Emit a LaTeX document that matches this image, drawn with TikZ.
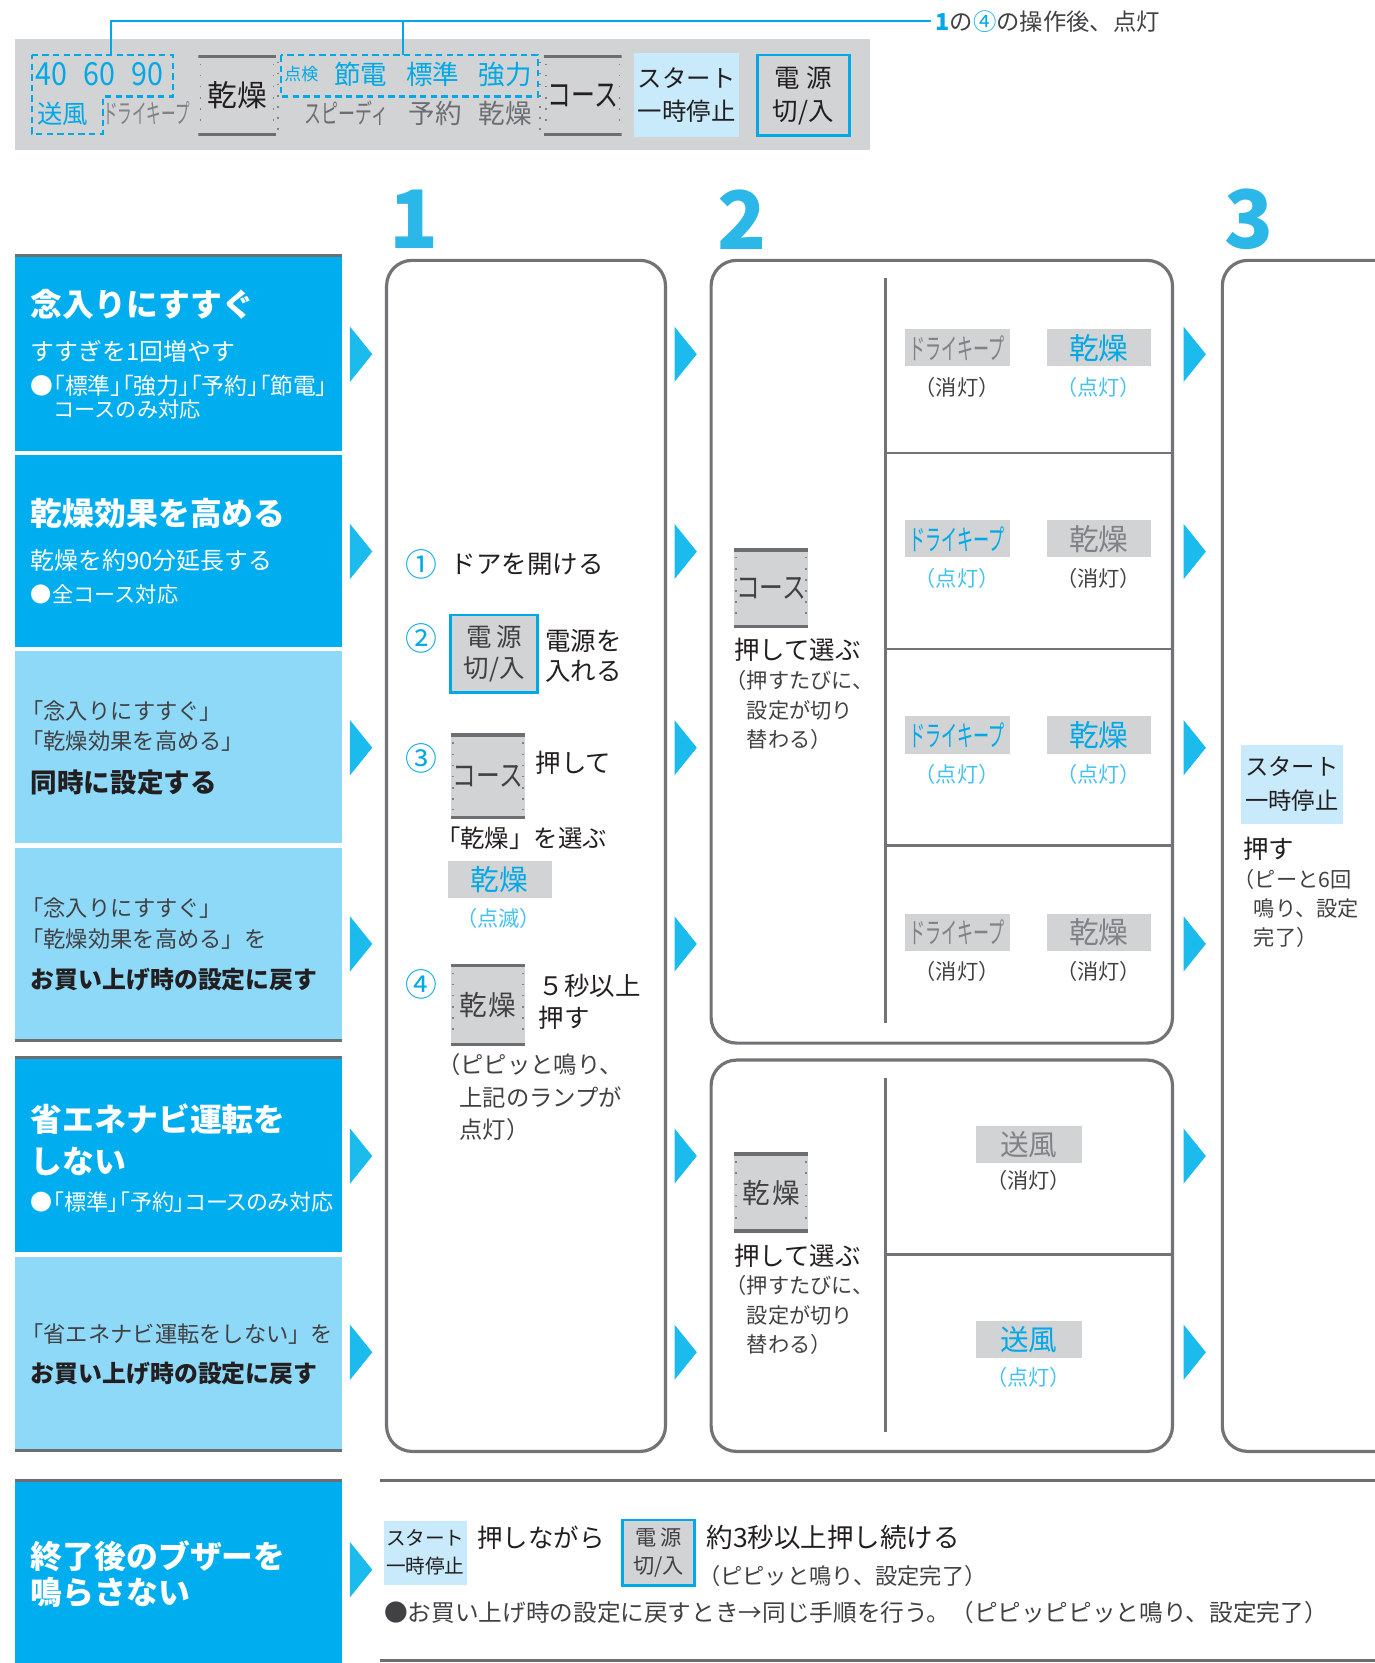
\documentclass[tikz,border=0pt]{standalone}
\usepackage{fontspec}
\setmainfont{Noto Sans CJK JP}
\newfontfamily\jpp[RawFeature=+palt]{Noto Sans CJK JP}
\usepackage{graphicx}
\usetikzlibrary{positioning}

\definecolor{cyandark}{HTML}{00AEEF}
\definecolor{cyanlight}{HTML}{8ED8F8}
\definecolor{arrowblue}{HTML}{1CBBEE}
\definecolor{headblue}{HTML}{2CB7E9}
\definecolor{litblue}{HTML}{00A9E6}
\definecolor{litsoft}{HTML}{45C1F0}
\definecolor{btngray}{HTML}{D1D3D4}
\definecolor{keyline}{HTML}{6D6E71}
\definecolor{boxgray}{HTML}{727376}
\definecolor{offgray}{HTML}{808285}
\definecolor{ink}{HTML}{231F20}
\definecolor{inksoft}{HTML}{414042}
\definecolor{startblue}{HTML}{C8EAFA}

\newcommand{\fz}[1]{\fontsize{#1}{#1}\selectfont}
\newcommand{\lbon}{（点灯）}
\newcommand{\lboff}{（消灯）}

\tikzset{
  txt/.style={anchor=west, inner sep=0pt, text=ink},
  ctr/.style={inner sep=0pt, text=ink},
  wt/.style={txt, text=white},
  leftdark/.style={anchor=north west, fill=cyandark, minimum width=308pt, inner sep=0pt, outer sep=0pt},
  leftlight/.style={leftdark, fill=cyanlight},
  topline/.style={keyline, line width=3pt},
  stepframe/.style={draw=boxgray, line width=3pt, rounded corners=24pt, anchor=north west, inner sep=0pt},
  divider/.style={boxgray, line width=2.5pt},
  dashblue/.style={litblue, line width=2pt, dash pattern=on 6pt off 4pt},
  dotside/.style={offgray, line width=1.5pt, dash pattern=on 1.5pt off 9pt},
  keybtn/.style={fill=btngray, inner sep=0pt, text=inksoft,
    path picture={
      \draw[keyline, line width=6pt] (path picture bounding box.north west) -- (path picture bounding box.north east);
      \draw[keyline, line width=6pt] (path picture bounding box.south west) -- (path picture bounding box.south east);
      \draw[dotside] ([xshift=2pt,yshift=-8pt]path picture bounding box.north west) -- ([xshift=2pt,yshift=8pt]path picture bounding box.south west);
      \draw[dotside] ([xshift=-2pt,yshift=-8pt]path picture bounding box.north east) -- ([xshift=-2pt,yshift=8pt]path picture bounding box.south east);
    }},
  pwrbtn/.style={fill=btngray, draw=litblue, line width=2.5pt, inner sep=0pt, text=inksoft, align=center},
  startbtn/.style={fill=startblue, inner sep=0pt, text=ink, align=center},
  lamp/.style={fill=btngray, minimum width=99pt, minimum height=35pt, inner sep=0pt},
  lampon/.style={lamp, text=litblue},
  lampoff/.style={lamp, text=offgray},
  stateon/.style={ctr, text=litsoft, font=\fz{20}},
  stateoff/.style={ctr, text=inksoft, font=\fz{20}},
  headnum/.style={text=headblue, font={\fz{76}\bfseries}, inner sep=0pt},
  circnum/.style={ctr, text=litblue, font=\fz{30}},
  arrowtip/.style={fill=arrowblue},
}

\begin{document}
\begin{tikzpicture}[x=1pt, y=-1pt]
\useasboundingbox (0,0) rectangle (1296,1568);

% control panel
\node[fill=btngray, anchor=north west, minimum width=806pt, minimum height=104pt, inner sep=0pt] (panel) at (14,37) {};
\draw[dashblue] (30,52) -- (163,52) -- (163,91) -- (97,91) -- (97,126) -- (30,126) -- cycle;
\draw[dashblue] (265,52) rectangle (507,91);
\draw[dotside] (262,58) -- (262,126);
\draw[dotside] (509,58) -- (509,126);
\node[txt, text=litblue, font=\fz{30}] (temps) at (33,70) {\scalebox{0.9}[1]{40\hspace{17pt}60\hspace{17pt}90}};
\node[txt, text=litblue, font=\fz{24}] (fan) at (35,107) {送風};
\node[txt, text=offgray, font=\fz{25}] (drykeep) at (97,107) {\scalebox{0.55}[1]{ドライキープ}};
\node[keybtn, text=ink, minimum width=73pt, minimum height=76pt] (drytop) at (223.5,90) {\fz{28}乾燥};
\node[txt, text=litblue, font=\fz{16}] (check) at (268,70) {点検};
\node[txt, text=litblue, font=\fz{25}] (eco) at (315,70) {節電};
\node[txt, text=litblue, font=\fz{25}] (standard) at (383,70) {標準};
\node[txt, text=litblue, font=\fz{25}] (strong) at (451,70) {強力};
\node[txt, text=keyline, font=\fz{25}] (speedy) at (287,107) {\scalebox{0.64}[1]{スピーディ}};
\node[txt, text=keyline, font=\fz{25}] (timer) at (385,107) {予約};
\node[txt, text=keyline, font=\fz{25}] (drytxt) at (451,107) {乾燥};
\node[keybtn, text=ink, minimum width=73pt, minimum height=76pt] (coursetop) at (549.5,90) {\scalebox{0.75}[1]{\fz{30}コース}};
\node[startbtn, minimum width=99pt, minimum height=79pt, font=\fz{23}] (starttop) at (647.5,89.5) {スタート\\[8pt]一時停止};
\node[pwrbtn, text=ink, minimum width=87pt, minimum height=76pt, font=\fz{24}] (pwrtop) at (757.5,90) {電\hspace{6pt}源\\[7pt]切/入};

% lamp note
\coordinate (tapfan) at (105,52);
\coordinate (tapcourse) at (380,52);
\node[txt, text=inksoft, font=\fz{22}] (note) at (882,20) {{\bfseries\color{litblue}1}の{\color{litblue}④}の操作後、点灯};
\draw[litblue, line width=2pt] (tapfan) |- ([xshift=-4pt]note.west);
\draw[litblue, line width=2pt] (tapcourse) -- (tapcourse |- note.west);

% step numbers
\node[headnum] (hdone) at (390,207) {1};
\node[headnum] (hdtwo) at (700,207) {2};
\node[headnum] (hdthree) at (1178,207) {3};

% left column
\node[leftdark, minimum height=184pt] (rinse) at (14,241) {};
\node[leftdark, minimum height=181pt] (dry) at (14,429) {};
\node[leftlight, minimum height=181pt] (both) at (14,614) {};
\node[leftlight, minimum height=181pt] (bothreset) at (14,800) {};
\node[leftdark, minimum height=183pt] (econavi) at (14,997) {};
\node[leftlight, minimum height=183pt] (ecoreset) at (14,1185) {};
\node[leftdark, minimum height=172pt] (buzzer) at (14,1396) {};
\draw[topline] (rinse.north west) -- (rinse.north east);
\draw[topline] (bothreset.south west) -- (bothreset.south east);
\draw[topline] (econavi.north west) -- (econavi.north east);
\draw[topline] (ecoreset.south west) -- (ecoreset.south east);
\draw[topline] (buzzer.north west) -- (buzzer.north east);

\node[wt, font={\fz{30}\bfseries}] (rinseA) at (29,287) {念入りにすすぐ};
\node[wt, font=\fz{22.5}] (rinseB) at (29,331) {すすぎを1回増やす};
\node[wt, font=\fz{21.5}] (rinseC) at (29,364) {\jpp ●「標準」「強力」「予約」「節電」};
\node[wt, font=\fz{20}] (rinseD) at (50,386) {コースのみ対応};
\node[wt, font={\fz{30}\bfseries}] (dryA) at (29,484) {乾燥効果を高める};
\node[wt, font=\fz{22.5}] (dryB) at (29,528) {乾燥を約90分延長する};
\node[wt, font=\fz{20}] (dryC) at (29,560) {●全コース対応};
\node[txt, text=inksoft, font=\fz{21}] (bothA) at (20,670) {「念入りにすすぐ」};
\node[txt, text=inksoft, font=\fz{21}] (bothB) at (20,699) {「乾燥効果を高める」};
\node[txt, font={\fz{25}\bfseries}] (bothC) at (29,738) {同時に設定する};
\node[txt, text=inksoft, font=\fz{21}] (bresetA) at (20,856) {「念入りにすすぐ」};
\node[txt, text=inksoft, font=\fz{21}] (bresetB) at (20,885) {「乾燥効果を高める」を};
\node[txt, font={\fz{22.5}\bfseries}] (bresetC) at (29,924) {お買い上げ時の設定に戻す};
\node[wt, font={\fz{30}\bfseries}] (econaviA) at (29,1055) {省エネナビ運転を};
\node[wt, font={\fz{30}\bfseries}] (econaviB) at (29,1095) {しない};
\node[wt, font=\fz{20.8}] (econaviC) at (29,1133) {\jpp ●「標準」「予約」コースのみ対応};
\node[txt, text=inksoft, font=\fz{21}] (eresetA) at (20,1258) {「省エネナビ運転をしない」を};
\node[txt, font={\fz{22.5}\bfseries}] (eresetB) at (29,1295) {お買い上げ時の設定に戻す};
\node[wt, font={\fz{30}\bfseries}] (buzzerA) at (29,1467) {終了後のブザーを};
\node[wt, font={\fz{30}\bfseries}] (buzzerB) at (29,1501) {鳴らさない};

% arrows
\foreach \yc in {334,520,705,890,1090,1275}{
  \foreach \xa in {330,636,1116}{
    \fill[arrowtip] (\xa,\yc-26) -- (\xa+21,\yc) -- (\xa,\yc+26) -- cycle;
  }
}
\fill[arrowtip] (330,1454) -- (351,1480) -- (330,1506) -- cycle;

% step 1
\node[stepframe, minimum width=263pt, minimum height=1123pt] (stepone) at (363,244) {};
\node[circnum] (cOne) at (397,532) {①};
\node[txt, font=\fz{24}] (openDoor) at (425,532) {ドアを開ける};
\node[circnum] (cTwo) at (397,602) {②};
\node[pwrbtn, minimum width=82pt, minimum height=73pt, font=\fz{24}] (pwrone) at (466,616.5) {電\hspace{4pt}源\\[5pt]切/入};
\node[txt, font=\fz{24}] (pwrOnA) at (514,604) {電源を};
\node[txt, font=\fz{24}] (pwrOnB) at (514,633) {入れる};
\node[circnum] (cThree) at (397,715) {③};
\node[keybtn, minimum width=70pt, minimum height=80pt] (courseone) at (460,732) {\scalebox{0.8}[1]{\fz{28}コース}};
\node[txt, font=\fz{24}] (pushA) at (505,719) {押して};
\node[txt, font=\fz{23}] (pickDry) at (411,790) {「乾燥」を選ぶ};
\node[lampon, minimum width=98pt] (dryblink) at (471,829.5) {\fz{27}乾燥};
\node[ctr, text=litsoft, font=\fz{20}] (blinkTxt) at (470,866) {（点滅）};
\node[circnum] (cFour) at (397,928) {④};
\node[keybtn, minimum width=70pt, minimum height=77pt] (dryone) at (460,947.5) {\fz{26}乾\hspace{2pt}燥};
\node[txt, font=\fz{24}] (fiveSecA) at (508,930) {５秒以上};
\node[txt, font=\fz{24}] (fiveSecB) at (508,960) {押す};
\node[txt, text=inksoft, font=\fz{22}] (beepA) at (412,1004) {（ピピッと鳴り、};
\node[txt, text=inksoft, font=\fz{22}] (beepB) at (433,1035) {上記のランプが};
\node[txt, text=inksoft, font=\fz{22}] (beepC) at (433,1065) {点灯）};

% step 2, course
\node[stepframe, minimum width=435pt, minimum height=738pt] (steptwo) at (669,244) {};
\draw[divider] (835,262) -- (835,965);
\foreach \yd in {427,612,797}{
  \draw[divider] (835,\yd) -- (1104,\yd);
}
\node[keybtn, minimum width=70pt, minimum height=75pt] (coursetwo) at (727,554.5) {\scalebox{0.8}[1]{\fz{28}コース}};
\node[txt, font=\fz{24}] (selA) at (692,613) {押して選ぶ};
\node[txt, text=inksoft, font=\fz{20}] (selB) at (684,642) {（押すたびに、};
\node[txt, text=inksoft, font=\fz{20}] (selC) at (704,670) {設定が切り};
\node[txt, text=inksoft, font=\fz{20}] (selD) at (704,697) {替わる）};
\foreach \yr/\sa/\sb [count=\i] in {328/off/on, 508/on/off, 693/on/on, 879/off/off}{
  \node[lamp\sa] (dk\i) at (902.5,\yr) {\scalebox{0.56}[1]{\fz{27}ドライキープ}};
  \node[state\sa] (dkst\i) at (902.5,\yr+37) {\csname lb\sa\endcsname};
  \node[lamp\sb, minimum width=98pt] (dr\i) at (1036,\yr) {\fz{28}乾燥};
  \node[state\sb] (drst\i) at (1036,\yr+37) {\csname lb\sb\endcsname};
}

% step 2, dry
\node[stepframe, minimum width=435pt, minimum height=369pt] (stepfan) at (669,998) {};
\draw[divider] (835,1016) -- (835,1350);
\draw[divider] (835,1183) -- (1104,1183);
\node[keybtn, minimum width=70pt, minimum height=75pt] (drytwo) at (727,1124.5) {\fz{26}乾\hspace{2pt}燥};
\node[txt, font=\fz{24}] (selE) at (692,1184) {押して選ぶ};
\node[txt, text=inksoft, font=\fz{20}] (selF) at (684,1212) {（押すたびに、};
\node[txt, text=inksoft, font=\fz{20}] (selG) at (704,1240) {設定が切り};
\node[txt, text=inksoft, font=\fz{20}] (selH) at (704,1268) {替わる）};
\node[lampoff, minimum width=100pt] (fanoff) at (970,1079) {\fz{27}送風};
\node[stateoff] (fanoffst) at (970,1113) {\lboff};
\node[lampon, minimum width=100pt] (fanon) at (970,1263) {\fz{27}送風};
\node[stateon] (fanonst) at (970,1299) {\lbon};

% step 3
\node[stepframe, minimum width=200pt, minimum height=1123pt] (stepstart) at (1151,244) {};
\node[startbtn, minimum width=96pt, minimum height=75pt, font=\fz{22}] (startthree) at (1218,739.5) {スタート\\[10pt]一時停止};
\node[txt, font=\fz{24}] (pressS) at (1172,800) {押す};
\node[txt, text=inksoft, font=\fz{20}] (sixA) at (1163,829) {（ピーと6回};
\node[txt, text=inksoft, font=\fz{20}] (sixB) at (1182,857) {鳴り、設定};
\node[txt, text=inksoft, font=\fz{20}] (sixC) at (1182,884) {完了）};

% buzzer row
\draw[topline] (358,1396) -- (1296,1396);
\draw[topline] (358,1566) -- (1296,1566);
\node[startbtn, minimum width=78pt, minimum height=60pt, font=\fz{18.5}] (startbz) at (401,1464) {スタート\\[8pt]一時停止};
\node[txt, font=\fz{24}] (holdA) at (450,1450) {押しながら};
\node[pwrbtn, minimum width=68pt, minimum height=62pt, font=\fz{20}] (pwrbz) at (621,1464) {電\hspace{3pt}源\\[6pt]切/入};
\node[txt, font=\fz{25}] (holdB) at (666,1450) {約3秒以上押し続ける};
\node[txt, text=inksoft, font=\fz{21}] (holdC) at (658,1486) {（ピピッと鳴り、設定完了）};
\node[txt, text=inksoft, font=\fz{22.3}] (resetNote) at (362,1520) {●お買い上げ時の設定に戻すとき→同じ手順を行う。（ピピッピピッと鳴り、設定完了）};
\end{tikzpicture}
\end{document}
